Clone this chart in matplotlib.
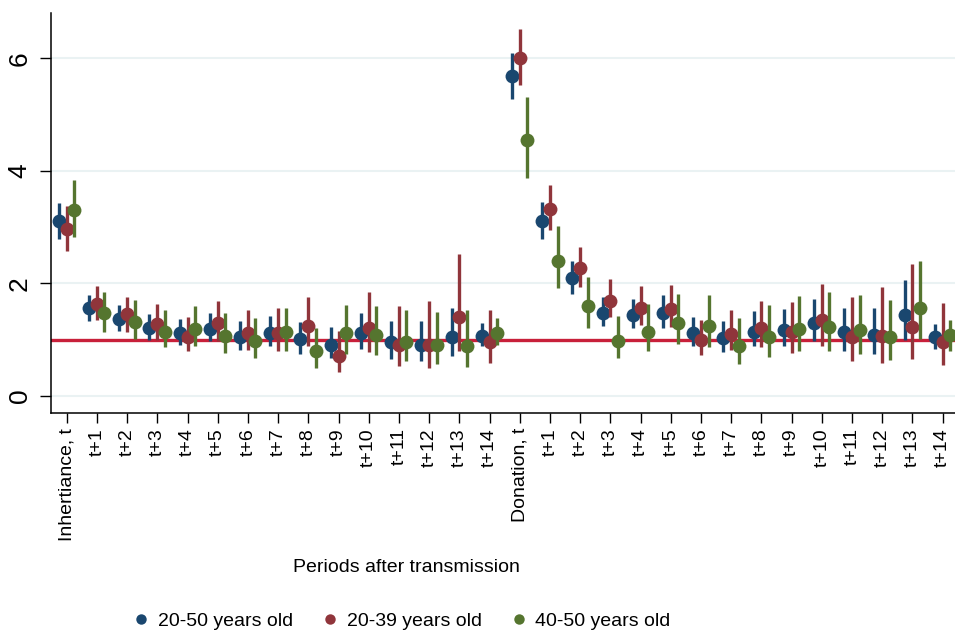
import matplotlib
matplotlib.use("Agg")
import matplotlib.pyplot as plt
from matplotlib.lines import Line2D
import numpy as np

plt.rcParams['font.family'] = ['Liberation Sans', 'DejaVu Sans']

periods = ["t+%d" % i for i in range(1, 15)]
categories = ["Inhertiance, t"] + periods + ["Donation, t"] + periods

series_labels = ["20-50 years old", "20-39 years old", "40-50 years old"]
colors = ["#1a476f", "#90353b", "#55752f"]

est_2050 = [3.10, 1.56, 1.36, 1.20, 1.12, 1.19, 1.04, 1.12, 1.01, 0.91, 1.12, 0.95, 0.91, 1.05, 1.07,
            5.68, 3.11, 2.09, 1.48, 1.44, 1.47, 1.11, 1.02, 1.14, 1.17, 1.30, 1.14, 1.08, 1.44, 1.04]
lo_2050 = [2.78, 1.33, 1.16, 0.99, 0.91, 0.97, 0.82, 0.88, 0.75, 0.67, 0.83, 0.66, 0.62, 0.71, 0.88,
           5.28, 2.79, 1.81, 1.24, 1.20, 1.21, 0.88, 0.78, 0.88, 0.89, 0.97, 0.80, 0.74, 0.99, 0.84]
hi_2050 = [3.42, 1.79, 1.62, 1.46, 1.36, 1.47, 1.33, 1.42, 1.31, 1.23, 1.48, 1.33, 1.33, 1.56, 1.29,
           6.10, 3.45, 2.39, 1.75, 1.73, 1.79, 1.41, 1.33, 1.50, 1.54, 1.73, 1.57, 1.56, 2.06, 1.28]

est_2039 = [2.96, 1.63, 1.45, 1.28, 1.05, 1.30, 1.12, 1.12, 1.24, 0.70, 1.20, 0.91, 0.91, 1.41, 0.95,
            6.01, 3.32, 2.27, 1.69, 1.56, 1.54, 0.99, 1.10, 1.20, 1.13, 1.34, 1.04, 1.07, 1.23, 0.95]
lo_2039 = [2.58, 1.35, 1.14, 0.99, 0.80, 0.98, 0.81, 0.79, 0.88, 0.43, 0.78, 0.53, 0.49, 0.79, 0.58,
           5.52, 2.95, 1.94, 1.40, 1.26, 1.23, 0.72, 0.81, 0.86, 0.77, 0.88, 0.62, 0.59, 0.65, 0.55]
hi_2039 = [3.37, 1.96, 1.76, 1.63, 1.41, 1.69, 1.53, 1.57, 1.75, 1.15, 1.84, 1.59, 1.69, 2.52, 1.53,
           6.52, 3.75, 2.65, 2.07, 1.95, 1.97, 1.35, 1.52, 1.69, 1.67, 1.98, 1.75, 1.93, 2.34, 1.65]

est_4050 = [3.30, 1.47, 1.31, 1.14, 1.18, 1.07, 0.97, 1.13, 0.79, 1.11, 1.08, 0.96, 0.91, 0.89, 1.11,
            4.55, 2.40, 1.59, 0.98, 1.14, 1.29, 1.24, 0.89, 1.04, 1.18, 1.22, 1.17, 1.05, 1.56, 1.08]
lo_4050 = [2.82, 1.14, 1.01, 0.86, 0.88, 0.76, 0.67, 0.79, 0.49, 0.75, 0.72, 0.62, 0.57, 0.52, 0.91,
           3.88, 1.91, 1.20, 0.67, 0.80, 0.92, 0.86, 0.57, 0.69, 0.80, 0.80, 0.75, 0.64, 1.01, 0.80]
hi_4050 = [3.84, 1.84, 1.71, 1.52, 1.60, 1.48, 1.39, 1.57, 1.20, 1.62, 1.59, 1.52, 1.49, 1.53, 1.39,
           5.32, 3.02, 2.11, 1.42, 1.63, 1.81, 1.79, 1.39, 1.61, 1.78, 1.84, 1.79, 1.71, 2.40, 1.35]

reference_value = 1.0
y_ticks = [0, 2, 4, 6]

estimates = [est_2050, est_2039, est_4050]
lows = [lo_2050, lo_2039, lo_4050]
highs = [hi_2050, hi_2039, hi_4050]
offsets = [-0.26, 0.0, 0.25]

W, H = 955, 633
fig = plt.figure(figsize=(W / 100, H / 100), dpi=100)
ax = fig.add_axes([51 / W, (H - 412.7) / H, 1 - 51 / W, (412.7 - 13.3) / H])

x = np.arange(len(categories))
ax.set_xlim(-0.52, 29.41)
ax.set_ylim(-0.30, 6.80)

for yt in y_ticks:
    ax.axhline(yt, color="#eaf2f3", lw=1.5, zorder=0)
ax.axhline(reference_value, color="#c8203a", lw=2.4, zorder=1)

for k in range(3):
    xs = x + offsets[k]
    ax.vlines(xs, lows[k], highs[k], color=colors[k], lw=2.4, zorder=2 + k)
    ax.plot(xs, estimates[k], 'o', color=colors[k], ms=10, mec='none', zorder=2 + k)

ax.set_xticks(x)
ax.set_xticklabels(categories, rotation=90, fontsize=14)
ax.set_yticks(y_ticks)
ax.set_yticklabels([str(v) for v in y_ticks], rotation=90, fontsize=19, va='center')
ax.tick_params(axis='x', length=7, width=1.0, pad=4, direction='out')
ax.tick_params(axis='y', length=8, width=1.0, pad=6, direction='out')
for s in ['top', 'right']:
    ax.spines[s].set_visible(False)
for s in ['left', 'bottom']:
    ax.spines[s].set_linewidth(1.1)

fig.text(406 / W, (H - 568) / H, "Periods after transmission", ha='center', va='center', fontsize=14)

handles = [Line2D([], [], marker='o', ls='none', color=c, ms=7.5, mec='none') for c in colors]
fig.legend(handles, series_labels, loc='center', bbox_to_anchor=(402 / W, (H - 621) / H), ncol=3,
           frameon=False, fontsize=14, handlelength=0.8, handletextpad=0.45, columnspacing=1.5)

fig.savefig("out.png", dpi=100)
